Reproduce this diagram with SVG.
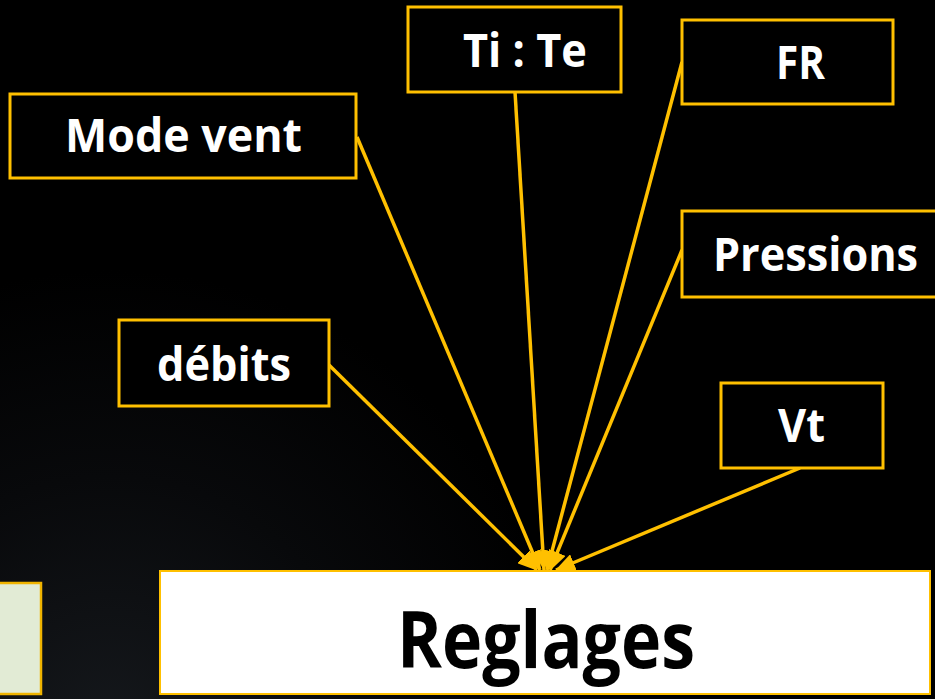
<svg xmlns="http://www.w3.org/2000/svg" width="935" height="699" viewBox="0 0 935 699">
<defs>
<radialGradient id="bg" cx="110" cy="730" r="460" gradientUnits="userSpaceOnUse">
<stop offset="0" stop-color="#15181c"/>
<stop offset="0.55" stop-color="#08090b"/>
<stop offset="1" stop-color="#000000"/>
</radialGradient>
<marker id="arr" markerUnits="userSpaceOnUse" markerWidth="20" markerHeight="18" refX="19" refY="9" orient="auto">
<path d="M0,0 L20,9 L0,18 z" fill="#FFC000"/>
</marker>
</defs>
<style>
.box{fill:#000;stroke:#FFC000;stroke-width:3}
.lbl{font-family:"Open Sans","Liberation Sans",sans-serif;font-weight:bold;font-size:46px;fill:#fff;text-anchor:middle}
.con{stroke:#FFC000;stroke-width:3.5;fill:none;marker-end:url(#arr)}
</style>
<rect width="935" height="699" fill="url(#bg)"/>
<g id="left-box"><rect x="-5" y="583" width="46" height="111" fill="#E2EBD5" stroke="#F0B400" stroke-width="2.5"/></g>
<g id="reglages"><rect x="160" y="571" width="770" height="123" fill="#fff" stroke="#FFC000" stroke-width="2"/>
<text x="546" y="668" font-family="'Open Sans','Liberation Sans',sans-serif" font-weight="bold" font-size="78" fill="#000" text-anchor="middle" textLength="298" lengthAdjust="spacingAndGlyphs">Reglages</text></g>
<g id="connectors">
<line class="con" x1="357" y1="137" x2="540" y2="570"/>
<line class="con" x1="515" y1="92" x2="544" y2="570"/>
<line class="con" x1="682" y1="62" x2="547" y2="570"/>
<line class="con" x1="682" y1="250" x2="550" y2="570"/>
<line class="con" x1="329" y1="365" x2="537" y2="570"/>
<line class="con" x1="800" y1="468" x2="556" y2="570"/>
</g>
<g id="mode-vent"><rect class="box" x="10" y="94" width="346" height="84"/><text class="lbl" x="183.5" y="152" textLength="237" lengthAdjust="spacingAndGlyphs">Mode vent</text></g>
<g id="ti-te"><rect class="box" x="408" y="7" width="213" height="85"/><text class="lbl" x="525" y="67" textLength="124" lengthAdjust="spacingAndGlyphs">Ti : Te</text></g>
<g id="fr"><rect class="box" x="682" y="20" width="211" height="84"/><text class="lbl" x="800.5" y="79" textLength="49" lengthAdjust="spacingAndGlyphs">FR</text></g>
<g id="pressions"><rect class="box" x="682" y="211" width="262" height="86"/><text class="lbl" x="815.5" y="271" textLength="205" lengthAdjust="spacingAndGlyphs">Pressions</text></g>
<g id="debits"><rect class="box" x="119" y="320" width="210" height="86"/><text class="lbl" x="224" y="381" textLength="134" lengthAdjust="spacingAndGlyphs">débits</text></g>
<g id="vt"><rect class="box" x="721" y="383" width="162" height="85"/><text class="lbl" x="801.5" y="442" textLength="47" lengthAdjust="spacingAndGlyphs">Vt</text></g>
</svg>
